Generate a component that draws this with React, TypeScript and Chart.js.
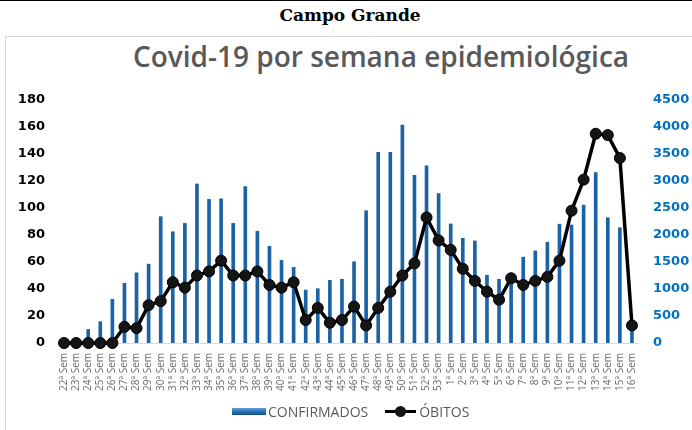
import React, { useEffect, useRef } from "react";
import { Chart, registerables } from "chart.js";
Chart.register(...registerables);

const categories = [
  "22ª Sem", "23ª Sem", "24ª Sem", "25ª Sem", "26ª Sem", "27ª Sem", "28ª Sem", "29ª Sem",
  "30ª Sem", "31ª Sem", "32ª Sem", "33ª Sem", "34ª Sem", "35ª Sem", "36ª Sem", "37ª Sem",
  "38ª Sem", "39ª Sem", "40ª Sem", "41ª Sem", "42ª Sem", "43ª Sem", "44ª Sem", "45ª Sem",
  "46ª Sem", "47ª Sem", "48ª Sem", "49ª Sem", "50ª Sem", "51ª Sem", "52ª Sem", "53ª Sem",
  "1ª Sem", "2ª Sem", "3ª Sem", "4ª Sem", "5ª Sem", "6ª Sem", "7ª Sem", "8ª Sem",
  "9ª Sem", "10ª Sem", "11ª Sem", "12ª Sem", "13ª Sem", "14ª Sem", "15ª Sem", "16ª Sem",
];

const confirmados = [
  0, 0, 250, 395, 810, 1105, 1300, 1460,
  2340, 2060, 2215, 2945, 2660, 2670, 2215, 2895,
  2070, 1790, 1530, 1400, 980, 1005, 1160, 1180,
  1505, 2450, 3530, 3530, 4035, 3105, 3280, 2765,
  2205, 1940, 1890, 1255, 1180, 1250, 1590, 1705,
  1865, 2200, 2185, 2555, 3155, 2320, 2135, 330,
];

const obitos = [
  0, 0, 0, 0, 0, 12, 11, 28,
  31, 45, 41, 50, 53, 61, 50, 50,
  53, 43, 41, 45, 17, 26, 15, 17,
  27, 13, 26, 38, 50, 59, 93, 76,
  69, 55, 46, 38, 32, 48, 43, 46,
  49, 61, 98, 121, 155, 154, 137, 13,
];

const leftMax = 180;
const leftStep = 20;
const rightMax = 4500;
const rightStep = 500;

export default function App() {
  const ref = useRef<HTMLCanvasElement>(null);
  useEffect(() => {
    const chart = new Chart(ref.current!, {
      type: "bar",
      data: {
        labels: categories,
        datasets: [
          {
            type: "line",
            label: "ÓBITOS",
            data: obitos,
            yAxisID: "y",
            borderColor: "#000",
            borderWidth: 3.5,
            pointRadius: 5.5,
            pointBackgroundColor: "#151515",
            pointBorderColor: "#000",
            pointBorderWidth: 1,
            order: 0,
            clip: false,
            tension: 0,
          } as any,
          {
            type: "bar",
            label: "CONFIRMADOS",
            data: confirmados,
            yAxisID: "y1",
            backgroundColor: "#1c63a6",
            barThickness: 3,
            order: 1,
          },
        ],
      },
      options: {
        responsive: false,
        maintainAspectRatio: false,
        animation: false,
        layout: { padding: { top: 100, bottom: 32, left: 0, right: 0 } },
        plugins: {
          legend: { display: false },
          title: { display: false },
          tooltip: { enabled: false },
        },
        scales: {
          x: {
            grid: { display: false },
            border: { display: true, color: "#d9d9d9", width: 1 },
            ticks: {
              minRotation: 90,
              maxRotation: 90,
              autoSkip: false,
              color: "#6a6a6a",
              font: { family: "Open Sans", size: 10 },
              padding: 2,
            },
            afterFit: (s: any) => {
              s.height = 55;
            },
          },
          y: {
            position: "left",
            min: 0,
            max: leftMax,
            ticks: {
              stepSize: leftStep,
              color: "#000",
              font: { family: "DejaVu Sans", size: 13, weight: "bold" },
              padding: 5,
              callback: (v: any) => String(v),
            },
            grid: { display: false },
            border: { display: false },
            afterFit: (s: any) => {
              s.width = 58;
            },
          },
          y1: {
            position: "right",
            min: 0,
            max: rightMax,
            ticks: {
              stepSize: rightStep,
              color: "#0070C0",
              font: { family: "DejaVu Sans", size: 13, weight: "bold" },
              padding: 7,
              callback: (v: any) => String(v),
            },
            grid: { display: false },
            border: { display: false },
            afterFit: (s: any) => {
              s.width = 54;
            },
          },
        },
      } as any,
    });
    return () => chart.destroy();
  }, []);

  return (
    <div
      style={{
        position: "fixed",
        left: 0,
        top: 0,
        width: 692,
        height: 430,
        background: "#fff",
        overflow: "hidden",
      }}
    >
      <div style={{ position: "absolute", left: 0, top: 0, width: 692, height: 1, background: "#000" }} />
      <div
        style={{
          position: "absolute",
          left: 0,
          top: 4,
          width: 700,
          textAlign: "center",
          fontFamily: "DejaVu Serif",
          fontWeight: "bold",
          fontSize: 17,
          color: "#000",
          lineHeight: "22px",
        }}
      >
        Campo Grande
      </div>
      <div
        style={{
          position: "absolute",
          left: 5,
          top: 36,
          width: 700,
          height: 420,
          border: "1px solid #d9d9d9",
          boxSizing: "border-box",
        }}
      />
      <div
        style={{
          position: "absolute",
          left: 0,
          top: 37,
          width: 762,
          textAlign: "center",
          fontFamily: "Open Sans",
          fontWeight: 600,
          fontSize: 28,
          color: "#595959",
          lineHeight: "38px",
        }}
      >
        Covid-19 por semana epidemiológica
      </div>
      <canvas
        ref={ref}
        width={692}
        height={430}
        style={{ position: "absolute", left: 0, top: 0, width: 692, height: 430 }}
      />
      <div
        style={{
          position: "absolute",
          left: 232,
          top: 401,
          height: 20,
          display: "flex",
          alignItems: "center",
          fontFamily: "Open Sans",
          fontSize: 14,
          color: "#595959",
        }}
      >
        <div
          style={{
            width: 34,
            height: 7,
            background: "linear-gradient(#5ea0e0, #1f68ab 60%, #174f85)",
            marginRight: 2,
          }}
        />
        <span>CONFIRMADOS</span>
        <div style={{ width: 17 }} />
        <div style={{ position: "relative", width: 31, height: 12, marginRight: 3 }}>
          <div style={{ position: "absolute", left: 0, top: 4.5, width: 31, height: 3.5, background: "#000" }} />
          <div
            style={{
              position: "absolute",
              left: 10,
              top: 0.5,
              width: 11,
              height: 11,
              borderRadius: "50%",
              background: "#151515",
            }}
          />
        </div>
        <span>ÓBITOS</span>
      </div>
    </div>
  );
}
